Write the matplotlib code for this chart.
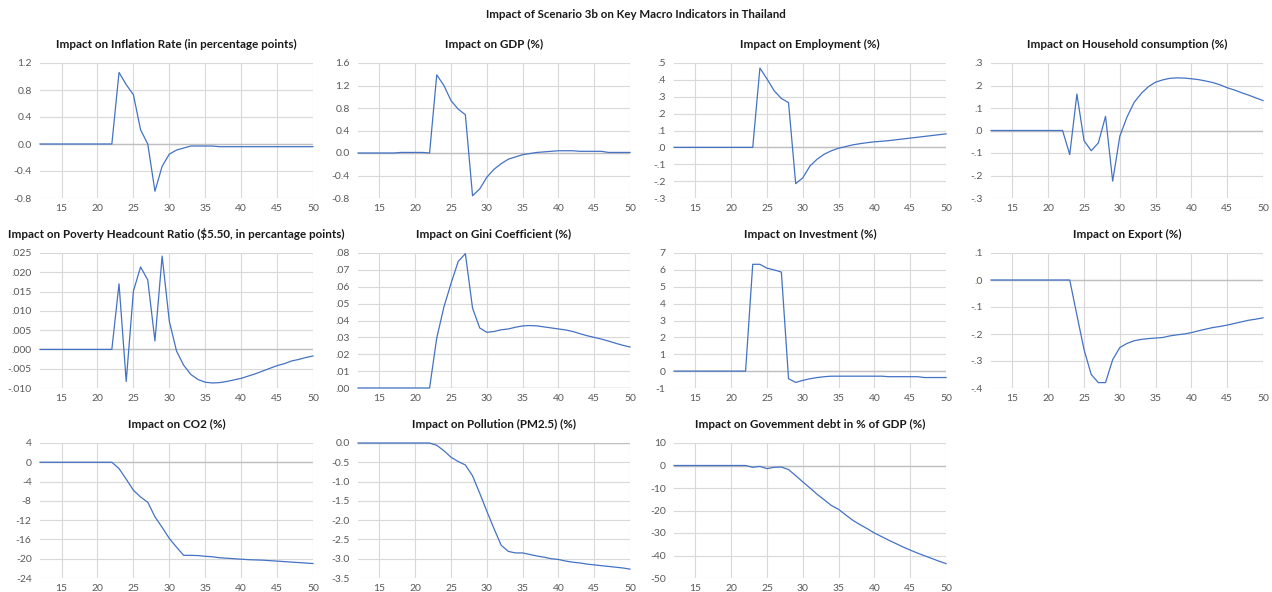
import matplotlib
matplotlib.use("Agg")
import matplotlib.pyplot as plt
import numpy as np
from matplotlib.ticker import FixedLocator, FuncFormatter

plt.rcParams['font.family'] = ['Lato', 'DejaVu Sans']
plt.rcParams['axes.unicode_minus'] = False

# Years on the x axis
years = list(range(12, 51))

zeros_11 = [0.0] * 11  # 12..22

inflation = zeros_11 + [1.06, 0.88, 0.73, 0.21, 0.0, -0.70, -0.33, -0.15, -0.09, -0.06,
                        -0.03, -0.03, -0.03, -0.03, -0.04, -0.04, -0.04, -0.04, -0.04, -0.04,
                        -0.04, -0.04, -0.04, -0.04, -0.04, -0.04, -0.04, -0.04]
gdp = [0.0] * 6 + [0.01, 0.01, 0.01, 0.01, 0.0] + [
    1.39, 1.20, 0.93, 0.78, 0.68, -0.76, -0.64, -0.43, -0.29, -0.19,
    -0.11, -0.07, -0.03, -0.01, 0.01, 0.02, 0.03, 0.04, 0.04, 0.04,
    0.03, 0.03, 0.03, 0.03, 0.01, 0.01, 0.01, 0.01]
employment = [0.0] * 12 + [
    0.47, 0.405, 0.335, 0.29, 0.265, -0.215, -0.18, -0.11, -0.07, -0.04,
    -0.02, -0.005, 0.005, 0.015, 0.022, 0.028, 0.033, 0.036, 0.040, 0.045,
    0.050, 0.055, 0.060, 0.065, 0.070, 0.075, 0.080]
household = zeros_11 + [-0.107, 0.162, -0.045, -0.09, -0.055, 0.063, -0.225, -0.025, 0.06, 0.125,
                        0.165, 0.195, 0.215, 0.225, 0.232, 0.234, 0.233, 0.23, 0.226, 0.22,
                        0.213, 0.203, 0.19, 0.18, 0.168, 0.157, 0.145, 0.133]
poverty = zeros_11 + [0.017, -0.0083, 0.0151, 0.0214, 0.018, 0.0022, 0.0242, 0.0073, -0.0004, -0.0041,
                      -0.0065, -0.0078, -0.0085, -0.0087, -0.0086, -0.0083, -0.0079, -0.0075, -0.0069, -0.0063,
                      -0.0056, -0.0049, -0.0042, -0.0037, -0.003, -0.0026, -0.0021, -0.0017]
gini = zeros_11 + [0.0296, 0.048, 0.062, 0.075, 0.0796, 0.0474, 0.0356, 0.033, 0.0335, 0.0345,
                   0.035, 0.036, 0.0368, 0.037, 0.0368, 0.0362, 0.0356, 0.035, 0.0344, 0.0335,
                   0.0322, 0.031, 0.030, 0.029, 0.0278, 0.0265, 0.0253, 0.0243]
investment = zeros_11 + [6.33, 6.33, 6.1, 6.0, 5.87, -0.45, -0.67, -0.55, -0.45, -0.38,
                         -0.33, -0.3, -0.3, -0.3, -0.3, -0.3, -0.3, -0.3, -0.3, -0.33,
                         -0.33, -0.33, -0.33, -0.33, -0.38, -0.38, -0.38, -0.38]
export = [0.0] * 12 + [
    -0.13, -0.258, -0.35, -0.38, -0.38, -0.295, -0.25, -0.235, -0.225,
    -0.22, -0.217, -0.215, -0.213, -0.207, -0.203, -0.2, -0.195, -0.188, -0.182,
    -0.176, -0.172, -0.167, -0.161, -0.155, -0.149, -0.145, -0.14]
co2 = zeros_11 + [-1.3, -3.5, -5.8, -7.2, -8.3, -11.3, -13.5, -15.8, -17.6, -19.3,
                  -19.3, -19.35, -19.5, -19.6, -19.8, -19.9, -20.0, -20.1, -20.2, -20.25,
                  -20.3, -20.4, -20.5, -20.6, -20.7, -20.8, -20.9, -21.0]
pollution = zeros_11 + [-0.06, -0.2, -0.37, -0.48, -0.57, -0.85, -1.3, -1.77, -2.22, -2.65,
                        -2.81, -2.85, -2.85, -2.89, -2.93, -2.96, -3.0, -3.02, -3.06, -3.09,
                        -3.11, -3.14, -3.16, -3.18, -3.20, -3.22, -3.24, -3.27]
debt = zeros_11 + [-0.8, -0.4, -1.4, -0.8, -0.7, -1.8, -4.5, -7.3, -10.0, -12.8,
                   -15.3, -17.8, -19.5, -22.0, -24.4, -26.3, -28.1, -30.0, -31.6, -33.2,
                   -34.7, -36.2, -37.6, -38.9, -40.1, -41.3, -42.5, -43.6]

titles = [
    "Impact on Inflation Rate (in percentage points)",
    "Impact on GDP (%)",
    "Impact on Employment (%)",
    "Impact on Household consumption (%)",
    "Impact on Poverty Headcount Ratio (\\$5.50, in percantage points)",
    "Impact on Gini Coefficient (%)",
    "Impact on Investment (%)",
    "Impact on Export (%)",
    "Impact on CO2 (%)",
    "Impact on Pollution (PM2.5) (%)",
    "Impact on Govemment debt in % of GDP (%)",
]
series = [inflation, gdp, employment, household, poverty, gini,
          investment, export, co2, pollution, debt]
# (ymin, ymax, step, decimals, leading zero)
y_scales = [
    (-0.8, 1.2, 0.4, 1, True),
    (-0.8, 1.6, 0.4, 1, True),
    (-0.3, 0.5, 0.1, 1, False),
    (-0.3, 0.3, 0.1, 1, False),
    (-0.010, 0.025, 0.005, 3, False),
    (0.0, 0.08, 0.01, 2, False),
    (-1, 7, 1, 0, True),
    (-0.4, 0.1, 0.1, 1, False),
    (-24, 4, 4, 0, True),
    (-3.5, 0.0, 0.5, 1, True),
    (-50, 10, 10, 0, True),
]

W, H = 1272, 592
fig = plt.figure(figsize=(W / 100, H / 100), dpi=100)
fig.patch.set_facecolor('white')

col_x = [(40, 313), (358, 630), (674, 946), (991, 1263)]
row_y = [(63, 198), (253, 388), (443, 578)]

line_color = '#4472C4'
grid_color = '#d9d9d9'
text_color = '#595959'


def make_fmt(dec, lead):
    def fmt(v, pos):
        s = f"{v:.{dec}f}"
        if s.startswith('-') and float(s) == 0:
            s = s[1:]
        if not lead:
            if s.startswith('0.'):
                s = s[1:]
            elif s.startswith('-0.'):
                s = '-' + s[2:]
        return s
    return fmt


for i, (title, vals, sc) in enumerate(zip(titles, series, y_scales)):
    r, c = divmod(i, 4)
    x0, x1 = col_x[c]
    y0, y1 = row_y[r]
    ax = fig.add_axes([x0 / W, 1 - y1 / H, (x1 - x0) / W, (y1 - y0) / H])
    ymin, ymax, step, dec, lead = sc
    yt = np.arange(ymin, ymax + step / 2, step)
    ax.set_xlim(12, 50)
    ax.set_ylim(ymin, ymax)
    ax.yaxis.set_major_locator(FixedLocator(yt))
    ax.yaxis.set_major_formatter(FuncFormatter(make_fmt(dec, lead)))
    ax.xaxis.set_major_locator(FixedLocator(range(15, 51, 5)))
    ax.grid(True, color=grid_color, linewidth=0.8)
    ax.set_axisbelow(True)
    for s in ax.spines.values():
        s.set_visible(False)
    ax.tick_params(length=0, labelsize=7.5, colors=text_color)
    ax.tick_params(axis='x', pad=4)
    ax.tick_params(axis='y', pad=6)
    ax.axhline(0, color='#bfbfbf', linewidth=1.0, zorder=1.5)
    ax.plot(years, vals, color=line_color, linewidth=0.9, zorder=3, clip_on=False)
    ax.set_title(title, fontsize=8.4, fontweight='bold', color='#1a1a1a', pad=11)

fig.text(0.5, 1 - 15 / H, "Impact of Scenario 3b on Key Macro Indicators in Thailand",
         ha='center', va='center', fontsize=8.3, fontweight='bold', color='#1a1a1a')

fig.savefig("out.png", dpi=100, facecolor='white')
